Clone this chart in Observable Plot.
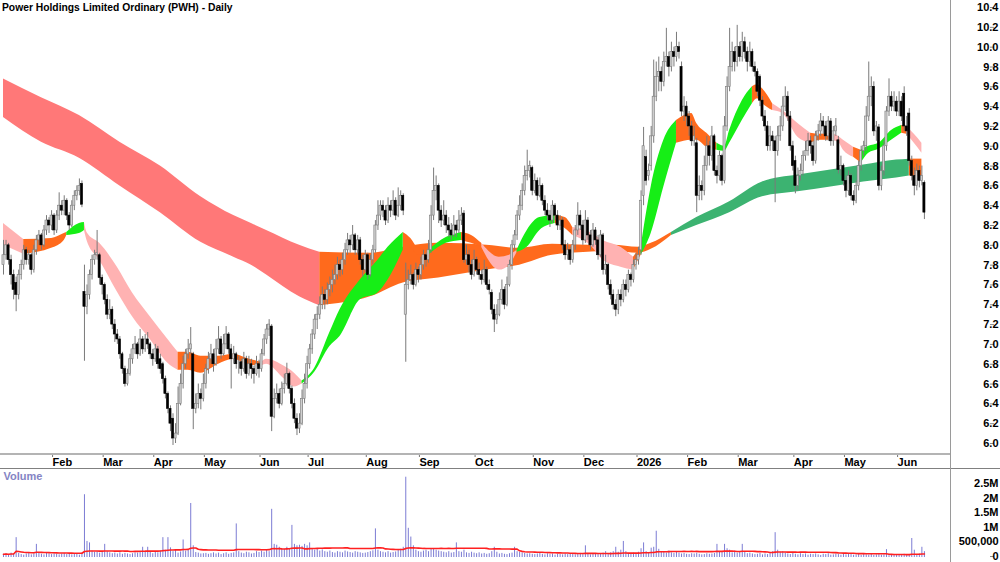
<!DOCTYPE html>
<html><head><meta charset="utf-8">
<script src="https://cdn.jsdelivr.net/npm/d3@7"></script>
<script src="https://cdn.jsdelivr.net/npm/@observablehq/plot@0.6"></script>
<style>
body{margin:0;background:#fff;}
#wrap{position:relative;width:1000px;height:562px;overflow:hidden;font-family:"Liberation Sans",Arial,sans-serif;background:#fff;}
#wrap svg{position:absolute;left:0;}
.ln{position:absolute;}
#title{position:absolute;left:2px;top:2px;font-size:10.3px;font-weight:bold;color:#000;white-space:nowrap;}
</style></head><body><div id="wrap"><div id="title">Power Holdings Limited Ordinary (PWH) - Daily</div></div>
<script>
// ---------- daily price bars (bar index 0 = first session shown) ----------
const opens = [
7.80,7.90,8.00,7.85,7.70,7.62,7.50,7.70,7.80,7.95,
7.85,7.90,7.75,7.95,8.05,8.10,8.00,8.15,8.25,8.20,
8.30,8.15,8.30,8.40,8.35,8.45,8.30,8.20,8.40,8.50,
8.55,8.62,7.53,7.38,7.50,7.70,7.85,7.90,7.90,7.67,
7.60,7.45,7.30,7.35,7.20,7.10,7.05,6.90,6.75,6.60,
6.70,6.85,6.95,7.00,6.90,7.05,6.95,7.05,7.00,6.90,
6.85,6.95,6.85,6.80,6.65,6.50,6.35,6.25,6.05,6.10,
6.40,6.60,6.80,6.90,6.95,6.90,6.35,6.40,6.50,6.45,
6.60,6.75,6.85,6.90,6.80,6.95,7.05,6.90,7.00,7.10,
6.95,6.85,6.90,6.80,6.82,6.75,6.85,6.70,6.80,6.75,
6.70,6.80,6.75,6.90,7.05,7.15,7.18,6.27,6.45,6.50,
6.40,6.55,6.60,6.70,6.55,6.40,6.25,6.15,6.20,6.45,
6.60,6.80,6.95,7.10,7.25,7.30,7.40,7.50,7.45,7.55,
7.60,7.65,7.70,7.80,7.75,7.85,7.95,8.05,8.00,8.10,
7.95,8.05,7.85,7.75,7.90,7.70,7.85,7.95,8.20,8.30,
8.40,8.35,8.25,8.40,8.35,8.45,8.30,8.40,8.50,7.30,
7.60,7.65,7.70,7.60,7.75,7.70,7.80,7.90,7.85,7.95,
8.30,8.55,8.60,8.35,8.25,8.30,8.20,8.15,8.10,8.20,
8.15,8.25,8.32,7.85,7.90,7.80,7.70,7.85,7.75,7.70,
7.65,7.75,7.60,7.52,7.35,7.25,7.30,7.45,7.55,7.40,
7.60,7.80,8.00,8.10,8.30,8.40,8.55,8.70,8.75,8.78,
8.55,8.65,8.50,8.60,8.45,8.35,8.30,8.25,8.40,8.30,
8.20,8.25,8.00,7.90,7.95,7.85,8.00,8.15,8.30,8.20,
8.05,8.25,8.10,8.00,8.15,8.05,7.90,8.10,7.75,7.80,
7.60,7.50,7.40,7.35,7.50,7.45,7.60,7.55,7.70,7.65,
7.80,7.85,7.95,8.50,8.89,8.70,8.80,9.10,9.50,9.70,
9.75,9.65,9.85,9.90,9.80,9.95,9.90,10.00,9.80,9.35,
9.40,9.30,9.20,9.05,9.03,8.50,8.60,8.55,8.80,9.00,
8.90,9.10,8.75,8.70,8.90,8.65,9.20,9.60,9.80,9.95,
9.85,10.00,9.90,10.05,9.95,9.85,9.95,9.80,9.75,9.70,
9.46,9.30,9.20,9.00,9.10,9.05,8.95,9.10,9.20,9.40,
9.50,9.30,9.00,8.85,8.60,8.70,8.75,8.90,8.95,9.05,
9.00,8.85,9.10,9.15,9.25,9.20,9.10,9.25,9.05,9.15,
9.06,8.76,8.80,8.65,8.55,8.70,8.50,8.45,8.60,8.80,
8.95,9.00,9.30,9.50,9.60,9.15,9.19,8.60,8.75,9.00,
9.35,9.50,9.40,9.45,9.35,9.45,9.53,9.20,9.33,8.85,
8.70,8.60,8.75,8.65,8.63];
const highs = [
8.05,8.05,8.02,7.90,7.75,7.68,7.75,7.85,8.00,7.98,
7.95,7.92,8.00,8.10,8.15,8.12,8.20,8.30,8.28,8.35,
8.32,8.35,8.53,8.45,8.50,8.47,8.33,8.45,8.55,8.60,
8.67,8.65,7.80,7.60,7.75,7.90,7.95,8.15,7.92,7.70,
7.62,7.50,7.45,7.38,7.25,7.15,7.08,6.92,6.78,6.75,
6.90,7.00,7.08,7.02,7.15,7.08,7.10,7.12,7.02,6.95,
7.00,6.98,6.90,6.82,6.68,6.52,6.38,6.30,6.20,6.57,
6.70,6.88,6.95,7.05,7.17,6.92,6.50,6.60,6.55,6.70,
6.80,6.92,7.00,6.95,7.05,7.18,7.08,7.10,7.18,7.12,
7.00,6.98,6.92,6.88,6.85,6.92,6.88,6.88,6.85,6.78,
6.88,6.84,6.95,7.10,7.20,7.25,7.20,6.55,6.60,6.55,
6.62,6.70,6.81,6.72,6.58,6.45,6.30,6.30,6.54,6.70,
6.88,7.00,7.15,7.30,7.38,7.48,7.58,7.55,7.62,7.68,
7.75,7.80,7.88,7.85,7.92,8.02,8.12,8.10,8.20,8.12,
8.10,8.08,7.90,7.95,7.92,7.90,8.00,8.25,8.45,8.45,
8.45,8.40,8.48,8.45,8.55,8.48,8.58,8.55,8.52,7.82,
7.75,7.80,7.72,7.82,7.78,7.88,7.95,7.92,8.05,8.40,
8.78,8.70,8.62,8.40,8.45,8.35,8.28,8.22,8.30,8.25,
8.35,8.38,8.35,8.00,7.95,7.85,7.95,7.88,7.82,7.75,
7.85,7.78,7.65,7.55,7.40,7.40,7.52,7.65,7.58,7.68,
7.85,8.05,8.15,8.35,8.50,8.62,8.80,8.96,8.85,8.80,
8.72,8.68,8.68,8.62,8.50,8.42,8.35,8.45,8.42,8.35,
8.30,8.28,8.05,8.02,7.98,8.05,8.20,8.43,8.35,8.25,
8.35,8.28,8.15,8.22,8.18,8.10,8.15,8.12,7.90,7.82,
7.65,7.55,7.45,7.55,7.55,7.65,7.65,7.75,7.72,7.85,
7.92,7.98,8.55,9.19,8.96,8.82,9.20,9.87,9.85,9.90,
9.80,9.95,10.19,9.95,10.05,10.00,10.15,10.05,9.85,9.50,
9.45,9.35,9.25,9.20,9.08,8.70,8.65,8.90,9.10,9.05,
9.20,9.12,8.80,8.95,8.92,9.30,9.70,10.19,10.05,10.00,
10.22,10.05,10.15,10.10,10.00,10.05,9.98,9.85,9.78,9.72,
9.50,9.36,9.25,9.20,9.15,9.10,9.20,9.30,9.50,9.60,
9.55,9.35,9.05,8.90,8.78,8.82,8.95,9.05,9.13,9.10,
9.05,9.15,9.22,9.33,9.30,9.25,9.30,9.28,9.20,9.28,
9.10,8.90,8.82,8.70,8.75,8.72,8.55,8.65,8.85,9.00,
9.05,9.40,9.85,9.70,9.65,9.25,9.22,8.80,9.05,9.40,
9.68,9.55,9.55,9.50,9.55,9.50,9.60,9.30,9.38,8.90,
8.78,8.82,8.80,8.80,8.65];
const lows = [
7.70,7.85,7.80,7.60,7.45,7.33,7.45,7.65,7.75,7.80,
7.80,7.70,7.72,7.90,8.00,7.95,7.98,8.10,8.12,8.15,
8.10,8.12,8.25,8.30,8.30,8.25,8.15,8.18,8.35,8.45,
8.50,8.38,6.83,7.30,7.45,7.65,7.80,7.85,7.60,7.50,
7.40,7.25,7.25,7.15,7.02,7.00,6.85,6.70,6.57,6.58,
6.68,6.80,6.90,6.85,6.88,6.90,6.92,6.95,6.85,6.78,
6.82,6.75,6.70,6.60,6.45,6.30,6.12,5.98,6.00,6.08,
6.38,6.55,6.75,6.85,6.90,6.14,6.30,6.35,6.34,6.42,
6.55,6.70,6.80,6.72,6.78,6.90,6.85,6.88,6.95,6.90,
6.55,6.80,6.75,6.70,6.68,6.72,6.65,6.68,6.65,6.60,
6.68,6.66,6.72,6.88,7.00,7.08,6.12,6.25,6.40,6.35,
6.38,6.50,6.58,6.50,6.35,6.20,6.08,6.10,6.18,6.40,
6.55,6.75,6.90,7.05,7.15,7.25,7.35,7.35,7.40,7.48,
7.52,7.60,7.65,7.68,7.70,7.80,7.90,7.92,7.95,7.90,
7.90,7.80,7.68,7.72,7.65,7.68,7.80,7.92,8.15,8.25,
8.28,8.20,8.22,8.28,8.30,8.25,8.28,8.35,8.30,6.82,
7.55,7.60,7.55,7.58,7.62,7.65,7.75,7.78,7.82,7.92,
8.25,8.45,8.22,8.18,8.20,8.12,8.08,8.05,8.08,8.08,
8.12,8.20,7.82,7.80,7.72,7.65,7.68,7.70,7.65,7.60,
7.62,7.55,7.50,7.30,7.12,7.20,7.28,7.40,7.35,7.38,
7.58,7.75,7.95,8.05,8.25,8.35,8.50,8.65,8.68,8.50,
8.52,8.45,8.48,8.40,8.30,8.25,8.18,8.22,8.25,8.15,
8.15,7.95,7.85,7.85,7.80,7.82,7.95,8.10,8.15,8.00,
8.02,8.05,7.95,7.98,8.00,7.85,7.88,7.70,7.70,7.55,
7.45,7.35,7.28,7.30,7.38,7.42,7.48,7.52,7.58,7.62,
7.75,7.80,7.90,8.40,8.60,8.65,8.75,9.03,9.45,9.55,
9.55,9.60,9.80,9.70,9.75,9.80,9.85,9.88,9.30,9.25,
9.20,9.10,9.00,9.00,8.33,8.45,8.45,8.50,8.75,8.80,
8.85,8.70,8.62,8.65,8.60,8.62,9.15,9.55,9.75,9.75,
9.80,9.85,9.85,9.88,9.75,9.80,9.75,9.70,9.50,9.40,
9.25,9.15,8.95,8.95,8.95,8.43,8.90,9.05,9.15,9.35,
9.25,8.95,8.75,8.52,8.55,8.65,8.70,8.85,8.90,8.92,
8.80,8.82,9.05,9.10,9.12,9.05,9.05,9.00,9.00,9.10,
8.72,8.70,8.60,8.48,8.50,8.45,8.40,8.42,8.55,8.75,
8.90,8.95,9.25,9.40,9.10,9.05,8.55,8.55,8.70,8.95,
9.30,9.35,9.35,9.30,9.30,9.25,9.15,9.10,8.80,8.65,
8.50,8.55,8.58,8.60,8.26];
const closes = [
7.90,8.00,7.85,7.70,7.55,7.50,7.70,7.80,7.95,7.85,
7.90,7.75,7.95,8.05,8.10,8.00,8.15,8.25,8.20,8.30,
8.15,8.30,8.40,8.35,8.45,8.30,8.20,8.40,8.50,8.55,
8.60,8.41,7.38,7.50,7.70,7.85,7.90,7.92,7.67,7.60,
7.45,7.30,7.35,7.20,7.10,7.05,6.90,6.75,6.60,6.70,
6.85,6.95,7.00,6.90,7.05,6.95,7.05,7.00,6.90,6.85,
6.95,6.80,6.75,6.65,6.50,6.35,6.20,6.05,6.10,6.40,
6.60,6.80,6.90,6.95,7.00,6.35,6.40,6.50,6.45,6.60,
6.75,6.85,6.90,6.80,6.95,7.05,6.90,7.00,7.10,6.95,
6.85,6.90,6.80,6.80,6.75,6.85,6.70,6.80,6.75,6.70,
6.80,6.75,6.90,7.05,7.15,7.20,6.27,6.45,6.50,6.40,
6.55,6.60,6.70,6.55,6.40,6.25,6.15,6.20,6.45,6.60,
6.80,6.95,7.10,7.25,7.30,7.40,7.50,7.45,7.55,7.60,
7.65,7.70,7.80,7.75,7.85,7.95,8.05,8.00,8.10,7.95,
8.05,7.85,7.75,7.90,7.70,7.85,7.95,8.20,8.30,8.40,
8.35,8.25,8.40,8.35,8.45,8.30,8.40,8.50,8.35,7.60,
7.65,7.70,7.60,7.75,7.70,7.80,7.90,7.85,7.95,8.30,
8.55,8.60,8.35,8.25,8.30,8.20,8.15,8.10,8.20,8.15,
8.25,8.30,7.85,7.90,7.80,7.70,7.85,7.75,7.70,7.65,
7.75,7.60,7.55,7.35,7.25,7.30,7.45,7.55,7.40,7.60,
7.80,8.00,8.10,8.30,8.40,8.55,8.70,8.75,8.80,8.55,
8.65,8.50,8.60,8.45,8.35,8.30,8.25,8.40,8.30,8.20,
8.25,8.00,7.90,7.95,7.85,8.00,8.15,8.30,8.20,8.05,
8.25,8.10,8.00,8.15,8.05,7.90,8.10,7.75,7.80,7.60,
7.50,7.40,7.35,7.50,7.45,7.60,7.55,7.70,7.65,7.80,
7.85,7.90,8.45,9.00,8.65,8.75,9.10,9.50,9.70,9.75,
9.65,9.85,9.90,9.80,9.95,9.90,10.00,9.95,9.35,9.40,
9.30,9.20,9.05,9.10,8.50,8.60,8.55,8.80,9.00,8.90,
9.10,8.75,8.70,8.90,8.65,9.20,9.60,9.80,9.95,9.85,
10.00,9.90,10.05,9.95,9.85,9.95,9.80,9.75,9.55,9.46,
9.30,9.20,9.00,9.10,9.05,8.95,9.10,9.20,9.40,9.50,
9.30,9.00,8.80,8.60,8.70,8.75,8.90,8.95,9.05,9.00,
8.85,9.10,9.15,9.25,9.20,9.10,9.25,9.05,9.15,9.20,
8.76,8.80,8.65,8.55,8.70,8.50,8.45,8.60,8.80,8.95,
9.00,9.30,9.50,9.60,9.15,9.20,8.60,8.75,9.00,9.35,
9.50,9.40,9.45,9.35,9.45,9.30,9.20,9.15,8.85,8.70,
8.60,8.75,8.65,8.70,8.33];
// daily volume, thousands of shares
const volumesK = [
110,130,90,150,120,680,140,100,80,120,
150,90,130,450,160,110,90,140,120,100,
130,110,90,120,140,100,120,90,110,130,
80,150,2150,550,500,220,180,200,150,180,
450,200,160,130,150,120,160,110,140,120,
100,130,160,150,200,350,180,350,200,130,
180,160,220,680,250,680,330,200,260,150,
190,600,220,250,1850,400,170,150,120,130,
140,110,130,160,120,150,100,130,160,110,
140,160,1150,200,150,130,180,160,120,140,
200,170,220,180,250,200,1650,450,420,350,
300,280,350,300,1100,450,400,420,380,450,
400,500,300,250,280,220,260,200,180,220,
170,150,200,180,160,220,190,170,150,200,
180,160,140,150,170,200,230,980,250,200,
180,160,200,150,170,190,250,280,350,2750,
1000,700,400,250,200,180,220,250,200,300,
280,250,220,200,180,160,200,150,170,500,
200,180,250,160,140,180,150,130,160,120,
140,110,130,200,350,180,120,140,110,100,
130,150,350,200,180,160,140,120,130,110,
100,120,140,110,90,130,100,120,80,110,
100,90,120,100,110,130,90,120,140,100,
400,110,90,120,130,100,110,150,200,130,
160,200,350,180,250,550,200,120,140,150,
130,180,300,500,200,150,320,350,900,280,
200,180,150,220,160,140,180,150,120,140,
110,100,130,120,150,110,90,100,130,110,
120,140,450,200,180,450,300,250,160,220,
150,180,450,200,130,150,120,100,110,140,
90,120,100,150,200,850,250,180,200,150,
120,100,140,110,90,130,100,120,80,110,
100,120,90,70,110,100,130,80,90,120,
100,80,110,90,120,100,80,90,110,70,
100,90,80,110,70,90,100,80,90,270,
60,90,80,70,100,90,110,80,70,650,
250,100,120,350,200];

// ---------- long-term MMA ribbon (read edges; state R=falling, O=mixed, G=rising) ----------
const longIdx = [0,15,30,46,62,78,91,98,104,117,125,145,158,172,191,204,217,231,241,251,256,264,274,287,300,314,327,340,353,358,363];
const longHi  = [9.68,9.49,9.31,9.04,8.80,8.49,8.30,8.22,8.15,8.00,7.93,7.92,7.98,8.02,8.00,7.97,8.01,8.00,8.00,7.98,8.02,8.13,8.28,8.44,8.64,8.71,8.76,8.81,8.86,8.87,8.87];
const longLo  = [9.29,9.04,8.88,8.60,8.33,8.03,7.88,7.80,7.70,7.48,7.39,7.48,7.62,7.67,7.75,7.80,7.90,7.93,7.94,7.92,7.96,8.10,8.20,8.33,8.49,8.54,8.59,8.64,8.68,8.70,8.70];
const longState = "RRRRRRRRRROOOOOOOOOOOGGGGGGGGOO".split("");

// ---------- short-term MMA ribbon ----------
const shortIdx = [0,8,19,24,25,30,32,33,38,45,51,58,65,69,73,78,85,91,96,102,104,111,115,118,123,129,133,141,148,152,158,161,164,168,175,181,185,189,196,200,203,207,212,218,222,225,232,237,244,249,252,256,261,266,272,274,278,282,285,287,292,296,298,300,304,308,314,319,323,327,330,332,336,339,342,346,351,355,357,360,363];
const shortHi = [8.22,8.06,8.07,8.12,8.13,8.22,8.23,8.13,8.02,7.78,7.52,7.28,7.05,6.92,6.92,6.88,6.88,6.90,6.86,6.82,6.85,6.78,6.71,6.63,6.76,7.12,7.35,7.65,7.85,7.98,8.13,8.07,7.97,7.95,8.08,8.13,8.10,8.02,7.88,7.90,7.95,8.15,8.28,8.30,8.28,8.18,8.13,8.05,7.98,7.88,7.98,8.59,9.06,9.26,9.33,9.23,9.13,9.03,9.00,9.16,9.46,9.60,9.62,9.58,9.43,9.36,9.23,9.13,9.12,9.13,9.10,9.06,8.99,8.96,9.00,9.03,9.16,9.21,9.20,9.12,9.03];
const shortLo = [8.00,7.91,7.97,8.05,8.10,8.12,8.15,8.05,7.85,7.53,7.28,7.05,6.81,6.74,6.74,6.71,6.80,6.85,6.80,6.78,6.80,6.65,6.57,6.60,6.72,6.98,7.08,7.45,7.52,7.65,7.95,7.97,7.90,7.90,8.02,8.05,8.02,7.98,7.75,7.80,7.93,7.98,8.15,8.22,8.17,8.10,8.00,7.85,7.78,7.75,7.90,8.12,8.59,9.03,9.06,9.06,8.99,8.96,8.95,9.03,9.26,9.43,9.48,9.43,9.36,9.33,9.09,9.03,9.06,9.06,9.04,8.96,8.89,8.83,8.93,8.97,9.06,9.13,9.12,9.03,8.93];
const shortState = "ROOOGGRRRRRRROOOOOORRRRGGGGGGGOOOGGOORRRGGGOORRRROGGGOOOOGGGGOOORRROORRROGGGGORR".split("");

// ---------- axes ----------
const priceTicks = [6.0,6.2,6.4,6.6,6.8,7.0,7.2,7.4,7.6,7.8,8.0,8.2,8.4,8.6,8.8,9.0,9.2,9.4,9.6,9.8,10.0,10.2,10.4];
const monthIdx = [19,39,59,79,101,120,143,164,186,209,229,250,270,290,312,332,353];
const monthLabels = ["Feb","Mar","Apr","May","Jun","Jul","Aug","Sep","Oct","Nov","Dec","2026","Feb","Mar","Apr","May","Jun"];
const volTicks = [0,500000,1000000,1500000,2000000,2500000];
const volTickLabels = ["0","500,000","1M","1.5M","2M","2.5M"];

// ---------- build tables ----------
const bars = closes.map((c, i) => ({i, o: opens[i], h: highs[i], l: lows[i], c}));
const vols = volumesK.map((v, i) => ({i, v: v * 1000}));
function ribbonRows(idx, hi, lo, st) {
  const rows = []; let seg = -1;
  for (let k = 0; k < idx.length - 1; k++) {
    if (k === 0 || st[k] !== st[k - 1]) { seg++; rows.push({seg, st: st[k], i: idx[k], hi: hi[k], lo: lo[k]}); }
    rows.push({seg, st: st[k], i: idx[k + 1], hi: hi[k + 1], lo: lo[k + 1]});
  }
  return rows;
}
const longRows = ribbonRows(longIdx, longHi, longLo, longState);
const shortRows = ribbonRows(shortIdx, shortHi, shortLo, shortState);
const longColor = {R: "#ff7878", O: "#ff6a1c", G: "#3cb371"};
const shortColor = {R: "#ffb2b2", O: "#ff6a1c", G: "#16ee16"};
const ribbonMarks = (rows, colors) => Object.keys(colors).map(s =>
  Plot.areaY(rows.filter(r => r.st === s), {x: "i", y1: "lo", y2: "hi", z: "seg", fill: colors[s], curve: "monotone-x"}));

const monthMap = new Map(monthIdx.map((d, k) => [d, monthLabels[k]]));
const volMap = new Map(volTicks.map((d, k) => [d, volTickLabels[k]]));
const step = 2.53;
const xDomain = [-3 / step, -3 / step + 951 / step];
const font = {fontFamily: "'Liberation Sans', Arial, sans-serif", fontSize: "11px", fontWeight: "bold", color: "#000", background: "transparent", overflow: "visible"};

const pricePlot = Plot.plot({
  width: 1000, height: 469, marginLeft: 0, marginRight: 49, marginTop: 0, marginBottom: 15,
  x: {domain: xDomain, label: null},
  y: {domain: [5.889, 10.471], label: null},
  style: font,
  marks: [
    ...ribbonMarks(longRows, longColor),
    ...ribbonMarks(shortRows, shortColor),
    Plot.ruleX(bars, {x: "i", y1: "l", y2: "h", stroke: "#7a7a7a", strokeWidth: 1}),
    Plot.rect(bars.filter(d => d.c >= d.o), {x1: d => d.i - 0.42, x2: d => d.i + 0.42, y1: "o", y2: "c", fill: "#d0d0d0", stroke: "#7a7a7a", strokeWidth: 0.6}),
    Plot.rect(bars.filter(d => d.c < d.o), {x1: d => d.i - 0.42, x2: d => d.i + 0.42, y1: "o", y2: "c", fill: "#000", stroke: "#000", strokeWidth: 0.6}),
    Plot.axisY({anchor: "right", ticks: priceTicks, tickSize: 4, tickFormat: d => d.toFixed(1), textAnchor: "end", dx: 38, stroke: "#888", fill: "#000", label: null}),
    Plot.axisX({anchor: "bottom", ticks: monthIdx, tickFormat: d => monthMap.get(d), tickSize: 3, tickPadding: 1, textAnchor: "start", dx: 1, stroke: "#777", fill: "#000", label: null})
  ]
});
pricePlot.style.top = "0px";

const volPlot = Plot.plot({
  width: 1000, height: 93, marginLeft: 0, marginRight: 49, marginTop: 0, marginBottom: 5,
  x: {domain: xDomain, axis: null},
  y: {domain: [0, 3.014e6], label: null},
  style: font,
  marks: [
    Plot.ruleX(vols, {x: "i", y1: 0, y2: "v", stroke: "#7c7cd4", strokeWidth: 1}),
    Plot.lineY(vols, Plot.windowY({k: 45, anchor: "end", reduce: "mean"}, {x: "i", y: "v", stroke: "#ff2020", strokeWidth: 1.6})),
    Plot.axisY({anchor: "right", ticks: volTicks, tickSize: 4, tickFormat: d => volMap.get(d), textAnchor: "end", dx: 38, dy: -1, stroke: "#888", fill: "#000", label: null}),
    Plot.text(["Volume"], {frameAnchor: "top-left", dx: 3, dy: 3, fill: "#8484c4", fontSize: 11, fontWeight: "bold", textAnchor: "start", lineAnchor: "top"})
  ]
});
volPlot.style.top = "469px";

const wrap = document.getElementById("wrap");
wrap.appendChild(pricePlot);
wrap.appendChild(volPlot);
// panel frame lines
function line(css) { const d = document.createElement("div"); d.className = "ln"; Object.assign(d.style, css); wrap.appendChild(d); }
line({left: "0px", top: "453px", width: "951px", height: "2px", background: "#b4b4b4"});
line({left: "0px", top: "468px", width: "1000px", height: "1px", background: "#808080"});
line({left: "950px", top: "0px", width: "1px", height: "562px", background: "#9a9a9a"});
</script></body></html>
